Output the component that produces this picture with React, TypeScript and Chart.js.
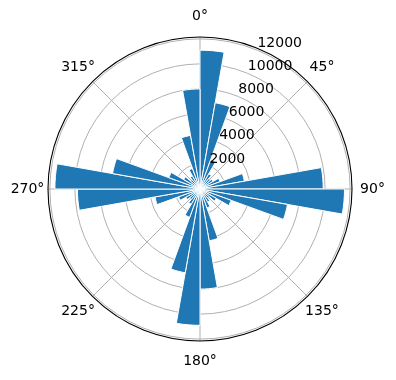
import { useEffect, useRef } from 'react';
import { Chart, registerables } from 'chart.js';

Chart.register(...registerables);

// Direction bins (start angle of each 10° bin, clockwise from north)
const binStarts = [
  0, 10, 20, 30, 40, 50, 60, 70, 80,
  90, 100, 110, 120, 130, 140, 150, 160, 170,
  180, 190, 200, 210, 220, 230, 240, 250, 260,
  270, 280, 290, 300, 310, 320, 330, 340, 350,
];
// Bar heights per bin
const counts = [
  11100, 7000, 2500, 1400, 1100, 1200, 1700, 3600, 9850,
  11550, 7100, 2650, 1500, 1000, 1200, 1600, 4200, 8000,
  10900, 6800, 2400, 1400, 1100, 1300, 1800, 3650, 9800,
  11600, 7100, 2650, 1500, 1000, 1200, 1750, 4350, 8000,
];
// Angular tick labels
const angleLabels = ['0°', '45°', '90°', '135°', '180°', '225°', '270°', '315°'];
// Radial axis
const radialTicks = [0, 2000, 4000, 6000, 8000, 10000, 12000];
const radialMax = 12150;
const radialLabelAngleDeg = 22.5;

const FONT = '14px "DejaVu Sans"';

const polarDecor = {
  id: 'polarDecor',
  afterDraw(chart: any) {
    const s = chart.scales.r;
    const ctx = chart.ctx as CanvasRenderingContext2D;
    const R = s.getDistanceFromCenterForValue(s.max);
    ctx.save();
    // outer spine
    ctx.beginPath();
    ctx.arc(s.xCenter, s.yCenter, R, 0, Math.PI * 2);
    ctx.strokeStyle = '#000000';
    ctx.lineWidth = 1.1;
    ctx.stroke();

    ctx.font = FONT;
    ctx.fillStyle = '#000000';
    // angular labels (centered outside the spine)
    ctx.textAlign = 'center';
    ctx.textBaseline = 'middle';
    (chart.data.labels as string[]).forEach((lab, i) => {
      const p = s.getPointPosition(i, R + 20.5);
      ctx.fillText(lab, p.x, p.y);
    });
    // radial tick labels along 22.5°
    const a = (radialLabelAngleDeg * Math.PI) / 180;
    ctx.textAlign = 'left';
    ctx.textBaseline = 'bottom';
    s.ticks.forEach((t: any) => {
      if (t.value <= 0) return;
      const d = s.getDistanceFromCenterForValue(t.value);
      ctx.fillText(String(t.value), s.xCenter + d * Math.sin(a), s.yCenter - d * Math.cos(a));
    });
    ctx.restore();
  },
};

export default function App() {
  const ref = useRef<HTMLCanvasElement | null>(null);

  useEffect(() => {
    if (!ref.current) return;
    const chart = new Chart(ref.current, {
      type: 'polarArea',
      data: {
        labels: angleLabels,
        datasets: [
          {
            label: 'count',
            data: counts,
            angle: 360 / binStarts.length,
            backgroundColor: '#1f77b4',
            borderColor: '#ffffff',
            borderWidth: 1,
          } as any,
        ],
      },
      options: {
        responsive: false,
        animation: false,
        layout: { padding: { left: 47, right: 43, top: 37, bottom: 38 } },
        plugins: {
          legend: { display: false },
          tooltip: { enabled: false },
        },
        scales: {
          r: {
            min: 0,
            max: radialMax,
            startAngle: 0,
            afterBuildTicks: (scale: any) => {
              scale.ticks = radialTicks.map((v) => ({ value: v }));
            },
            ticks: { display: false, z: 1 },
            grid: { circular: true, color: '#b0b0b0', lineWidth: 1 },
            angleLines: { display: true, color: '#b0b0b0', lineWidth: 1 },
            pointLabels: { display: false },
          } as any,
        },
      },
      plugins: [polarDecor],
    });
    return () => chart.destroy();
  }, []);

  return (
    <div style={{ position: 'absolute', left: 0, top: 0, width: 396, height: 380, background: '#ffffff' }}>
      <canvas ref={ref} width={396} height={380} style={{ display: 'block' }} />
    </div>
  );
}
